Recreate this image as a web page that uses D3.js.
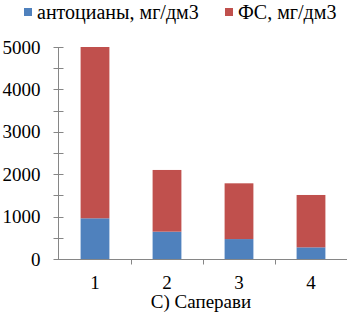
<!DOCTYPE html>
<html>
<head>
<meta charset="utf-8">
<script src="https://cdn.jsdelivr.net/npm/d3@7"></script>
</head>
<body style="margin:0; background:#fff">
<div id="chart"></div>
<script>
const categories = ['1', '2', '3', '4'];
const anthocyanins = [960, 645, 470, 275];
const phenolics = [4040, 1455, 1315, 1235];
const seriesNames = ['антоцианы, мг/дм3', 'ФС, мг/дм3'];
const yTicks = [0, 1000, 2000, 3000, 4000, 5000];
const title = 'С) Саперави';

const width = 348;
const height = 325;
const marginTop = 47;
const marginRight = 1;
const marginBottom = 66;
const marginLeft = 59;
const colors = ['#4f81bd', '#c0504d'];
const axisColor = '#868686';
const fontFamily = 'Liberation Serif';
const fontSize = 19;

const svg = d3.select('#chart')
    .append('svg')
    .attr('width', width)
    .attr('height', height)
    .style('display', 'block');

const data = categories.map((c, i) => ({ cat: c, a: anthocyanins[i], f: phenolics[i] }));
const stack = d3.stack().keys(['a', 'f'])(data);

const x = d3.scaleBand()
    .domain(categories)
    .range([marginLeft, width - marginRight])
    .paddingInner(0.6)
    .paddingOuter(0.3);

const y = d3.scaleLinear()
    .domain([0, 5000])
    .range([height - marginBottom, marginTop]);

// bars
svg.append('g')
    .selectAll('g')
    .data(stack)
    .join('g')
        .attr('fill', (d, i) => colors[i])
    .selectAll('rect')
    .data(d => d)
    .join('rect')
        .attr('x', d => x(d.data.cat))
        .attr('y', d => y(d[1]))
        .attr('height', d => y(d[0]) - y(d[1]))
        .attr('width', x.bandwidth());

// y axis
const yAxis = svg.append('g')
    .attr('transform', `translate(${marginLeft - 0.5}, 0)`);
yAxis.append('line')
    .attr('y1', y(5000)).attr('y2', y(0))
    .attr('stroke', axisColor);
yAxis.selectAll('.tick')
    .data(d3.range(0, 5001, 500))
    .join('line')
        .attr('x1', -5).attr('x2', 5)
        .attr('y1', d => Math.round(y(d)) + 0.5)
        .attr('y2', d => Math.round(y(d)) + 0.5)
        .attr('stroke', axisColor);
yAxis.selectAll('text')
    .data(yTicks)
    .join('text')
        .attr('x', -18)
        .attr('y', d => y(d))
        .attr('dy', '0.35em')
        .attr('text-anchor', 'end')
        .attr('font-family', fontFamily)
        .attr('font-size', fontSize)
        .text(d => d);

// x axis
const step = x.step();
const xAxis = svg.append('g')
    .attr('transform', `translate(0, ${Math.round(y(0)) + 0.5})`);
xAxis.append('line')
    .attr('x1', marginLeft - 5).attr('x2', width - marginRight)
    .attr('stroke', axisColor);
xAxis.selectAll('.tick')
    .data(categories.slice(1))
    .join('line')
        .attr('x1', d => Math.round(x(d) + x.bandwidth() / 2 - step / 2) + 0.5)
        .attr('x2', d => Math.round(x(d) + x.bandwidth() / 2 - step / 2) + 0.5)
        .attr('y1', 0).attr('y2', 5)
        .attr('stroke', axisColor);
xAxis.selectAll('text')
    .data(categories)
    .join('text')
        .attr('x', d => x(d) + x.bandwidth() / 2)
        .attr('y', 29)
        .attr('text-anchor', 'middle')
        .attr('font-family', fontFamily)
        .attr('font-size', fontSize)
        .text(d => d);

// title
svg.append('text')
    .attr('x', 201)
    .attr('y', 308)
    .attr('text-anchor', 'middle')
    .attr('font-family', fontFamily)
    .attr('font-size', fontSize)
    .text(title);

// legend
const legendX = [24, 225];
const legend = svg.append('g')
    .selectAll('g')
    .data(seriesNames)
    .join('g')
        .attr('transform', (d, i) => `translate(${legendX[i]}, 8)`);
legend.append('rect')
    .attr('width', 8).attr('height', 8)
    .attr('fill', (d, i) => colors[i]);
legend.append('text')
    .attr('x', 13)
    .attr('y', 4)
    .attr('dy', '0.35em')
    .attr('font-family', fontFamily)
    .attr('font-size', 20)
    .text(d => d);
</script>
</body>
</html>
